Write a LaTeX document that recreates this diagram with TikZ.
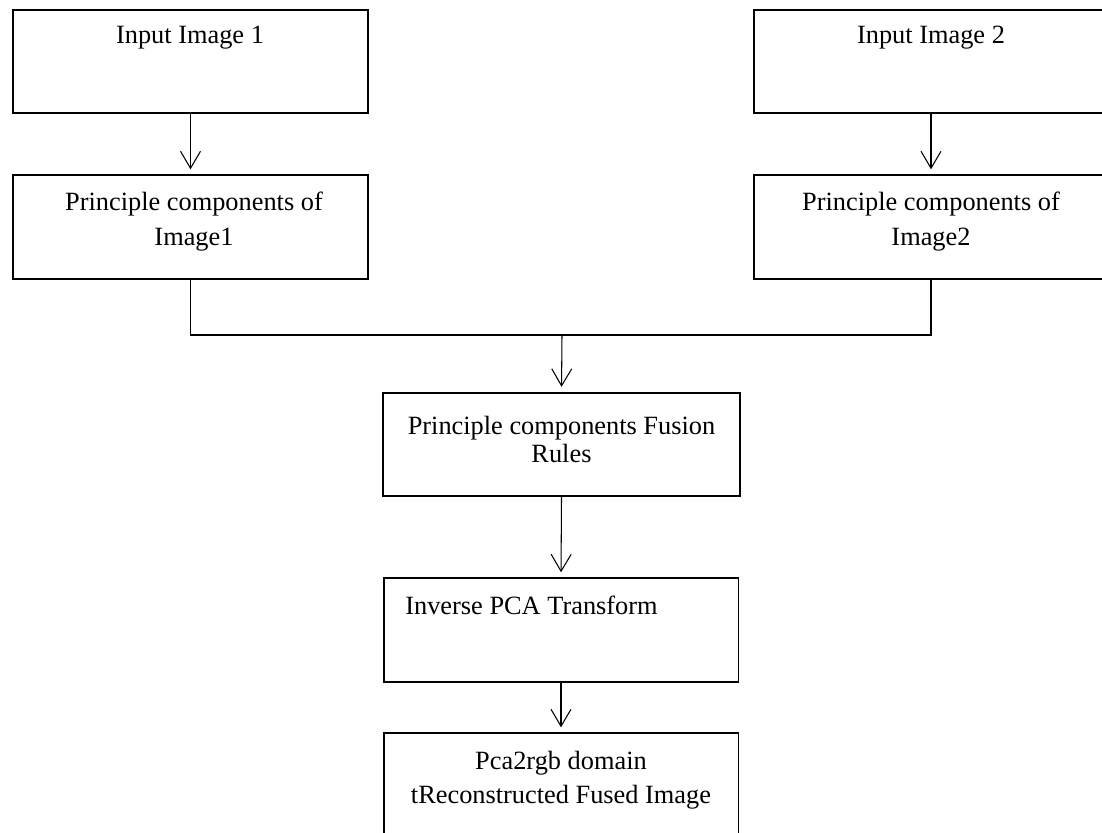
\documentclass[tikz,border=0pt]{standalone}
\usepackage{fontspec}
\setmainfont{Liberation Serif}
\usetikzlibrary{arrows.meta}

\begin{document}
\begin{tikzpicture}[x=0.02cm,y=-0.02cm,
        box/.style={draw,line width=1.1pt,minimum width=7.1cm,minimum height=2.07cm,inner sep=0pt},
        txt/.style={font=\fontsize{15}{19.4}\selectfont,align=center,inner sep=0pt,anchor=base},
        link/.style={line width=0.6pt},
        flow/.style={link,-{Straight Barb[length=0.34cm,width=0.4cm]},shorten >=0.1cm}]
        \useasboundingbox (0,0) rectangle (1102,832);
        \clip (0,0) rectangle (1102,832);
        \node[box] (in1) at (190.5,61.5) {};
        \node[box] (in2) at (931,61.5) {};
        \node[box] (pc1) at (190.5,227) {};
        \node[box] (pc2) at (931,227) {};
        \node[box,minimum width=7.14cm] (fuse) at (561.5,444.5) {};
        \node[box] (inv) at (561,630) {};
        \node[box] (rec) at (561,785) {};
        \node[txt] (t1) at (190,43) {Input Image 1};
        \node[txt] (t2) at (931,43) {Input Image 2};
        \node[txt] (t3) at (194,245) {Principle components of\\Image1};
        \node[txt] (t4) at (931,245) {Principle components of\\Image2};
        \node[txt,font=\fontsize{15}{15.4}\selectfont] (t5) at (561.5,462) {Principle components Fusion\\Rules};
        \node[txt,anchor=base west] (t6) at (405,614) {Inverse PCA Transform};
        \node[txt,font=\fontsize{15}{18.8}\selectfont] (t7) at (561,803) {Pca2rgb domain\\tReconstructed Fused Image};
        \coordinate (join) at (562,335);
        \draw[flow] (in1.south) -- (pc1.north);
        \draw[flow] (in2.south) -- (pc2.north);
        \draw[link] (pc1.south) |- (join) -| (pc2.south);
        \draw[flow] (join) -- (fuse.north);
        \draw[flow] (fuse.south) -- (inv.north);
        \draw[flow] (inv.south) -- (rec.north);
\end{tikzpicture}
\end{document}
